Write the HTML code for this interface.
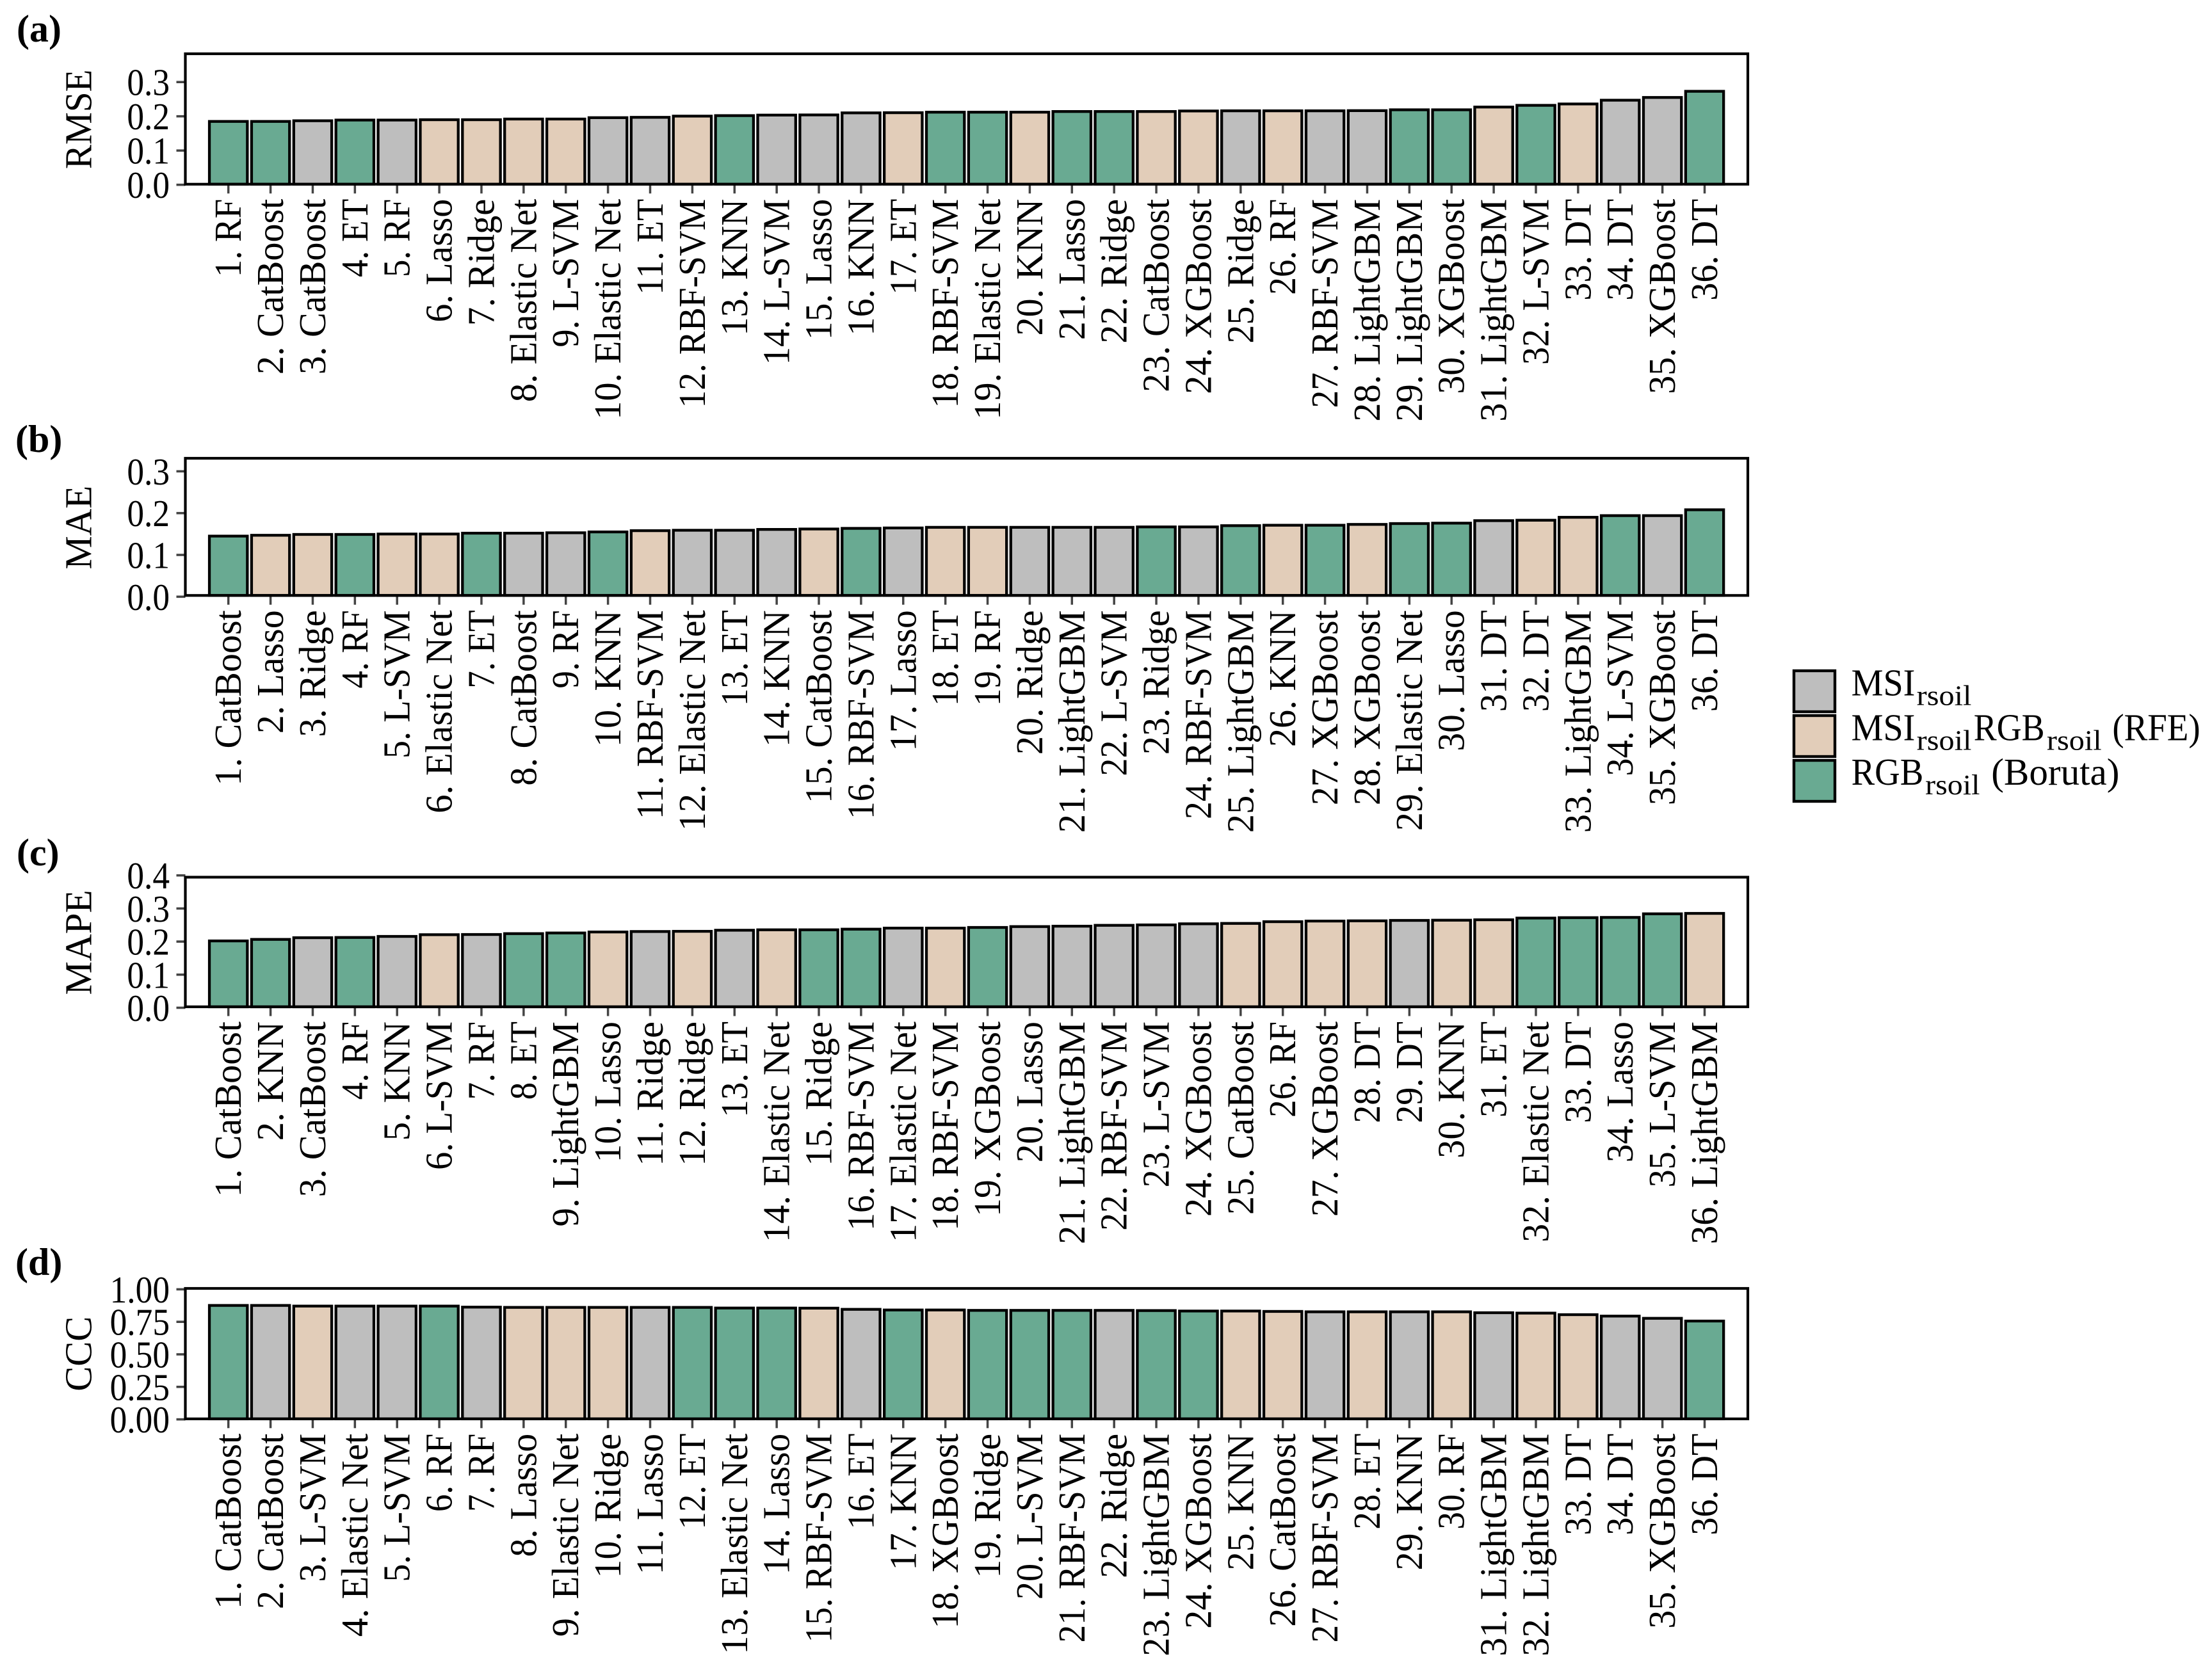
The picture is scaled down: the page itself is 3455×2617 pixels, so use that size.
<!DOCTYPE html>
<html lang="en">
<head>
<meta charset="utf-8">
<title>Model ranking bar charts</title>
<style>
html,body{margin:0;padding:0;background:#fff;}
svg{display:block;}
text{font-family:"Liberation Serif",serif;fill:#000;}
</style>
</head>
<body>
<svg id="chart" xmlns="http://www.w3.org/2000/svg" width="3455" height="2617" viewBox="0 0 3455 2617">
  <rect x="0" y="0" width="3455" height="2617" fill="#fff"/>
  <g>
    <rect x="2802" y="1048" width="64" height="64" fill="#bebebe" stroke="#000" stroke-width="4.4"/>
    <rect x="2802" y="1118" width="64" height="64" fill="#e2cdb9" stroke="#000" stroke-width="4.4"/>
    <rect x="2802" y="1188" width="64" height="64" fill="#69aa92" stroke="#000" stroke-width="4.4"/>
    <g>
      <text x="2891.6" y="1086.7" font-size="59" textLength="99.7" lengthAdjust="spacingAndGlyphs">MSI</text>
      <text x="2993.7" y="1101.7" font-size="44" textLength="85.7" lengthAdjust="spacingAndGlyphs">rsoil</text>
    </g>
    <g>
      <text x="2891.6" y="1156.5" font-size="59" textLength="99.7" lengthAdjust="spacingAndGlyphs">MSI</text>
      <text x="2993.7" y="1171.5" font-size="44" textLength="85.7" lengthAdjust="spacingAndGlyphs">rsoil</text>
      <text x="3082.8" y="1156.5" font-size="59" textLength="110.7" lengthAdjust="spacingAndGlyphs">RGB</text>
      <text x="3196.9" y="1171.5" font-size="44" textLength="85.7" lengthAdjust="spacingAndGlyphs">rsoil</text>
      <text x="3299.4" y="1156.5" font-size="59" textLength="137.2" lengthAdjust="spacingAndGlyphs">(RFE)</text>
    </g>
    <g>
      <text x="2891.6" y="1226" font-size="59" textLength="112.7" lengthAdjust="spacingAndGlyphs">RGB</text>
      <text x="3007.2" y="1241" font-size="44" textLength="85.2" lengthAdjust="spacingAndGlyphs">rsoil</text>
      <text x="3110.2" y="1226" font-size="59" textLength="200.3" lengthAdjust="spacingAndGlyphs">(Boruta)</text>
    </g>
  </g>
</svg>
<script>
// ---- Data: panel (a) RMSE ----
const rmseCategories = ["1. RF","2. CatBoost","3. CatBoost","4. ET","5. RF","6. Lasso","7. Ridge","8. Elastic Net","9. L-SVM","10. Elastic Net","11. ET","12. RBF-SVM","13. KNN","14. L-SVM","15. Lasso","16. KNN","17. ET","18. RBF-SVM","19. Elastic Net","20. KNN","21. Lasso","22. Ridge","23. CatBoost","24. XGBoost","25. Ridge","26. RF","27. RBF-SVM","28. LightGBM","29. LightGBM","30. XGBoost","31. LightGBM","32. L-SVM","33. DT","34. DT","35. XGBoost","36. DT"];
const rmseGroups = ["G","G","M","G","M","R","R","R","R","M","M","R","G","M","M","M","R","G","G","R","G","G","R","R","M","R","M","M","G","G","R","G","R","M","M","G"];
const rmseValues = [0.185,0.185,0.187,0.189,0.189,0.190,0.190,0.192,0.192,0.196,0.197,0.2005,0.202,0.2035,0.204,0.210,0.2105,0.212,0.212,0.212,0.214,0.214,0.214,0.2155,0.216,0.216,0.216,0.2165,0.219,0.219,0.227,0.232,0.236,0.247,0.255,0.273];
const rmseTicks = ["0.0","0.1","0.2","0.3"];

// ---- Data: panel (b) MAE ----
const maeCategories = ["1. CatBoost","2. Lasso","3. Ridge","4. RF","5. L-SVM","6. Elastic Net","7. ET","8. CatBoost","9. RF","10. KNN","11. RBF-SVM","12. Elastic Net","13. ET","14. KNN","15. CatBoost","16. RBF-SVM","17. Lasso","18. ET","19. RF","20. Ridge","21. LightGBM","22. L-SVM","23. Ridge","24. RBF-SVM","25. LightGBM","26. KNN","27. XGBoost","28. XGBoost","29. Elastic Net","30. Lasso","31. DT","32. DT","33. LightGBM","34. L-SVM","35. XGBoost","36. DT"];
const maeGroups = ["G","R","R","G","R","R","G","M","M","G","R","M","M","M","R","G","M","R","R","M","M","M","G","M","G","R","G","R","G","G","M","R","R","G","M","G"];
const maeValues = [0.145,0.147,0.149,0.149,0.150,0.150,0.152,0.152,0.153,0.155,0.158,0.159,0.159,0.161,0.162,0.1635,0.1645,0.166,0.166,0.166,0.166,0.166,0.167,0.167,0.170,0.171,0.171,0.173,0.175,0.176,0.182,0.183,0.190,0.194,0.194,0.208];
const maeTicks = ["0.0","0.1","0.2","0.3"];

// ---- Data: panel (c) MAPE ----
const mapeCategories = ["1. CatBoost","2. KNN","3. CatBoost","4. RF","5. KNN","6. L-SVM","7. RF","8. ET","9. LightGBM","10. Lasso","11. Ridge","12. Ridge","13. ET","14. Elastic Net","15. Ridge","16. RBF-SVM","17. Elastic Net","18. RBF-SVM","19. XGBoost","20. Lasso","21. LightGBM","22. RBF-SVM","23. L-SVM","24. XGBoost","25. CatBoost","26. RF","27. XGBoost","28. DT","29. DT","30. KNN","31. ET","32. Elastic Net","33. DT","34. Lasso","35. L-SVM","36. LightGBM"];
const mapeGroups = ["G","G","M","G","M","R","M","G","G","R","M","R","M","R","G","G","M","R","G","M","M","M","M","M","R","R","R","R","M","R","R","G","G","G","G","R"];
const mapeValues = [0.202,0.2066,0.2117,0.2124,0.2156,0.2208,0.2214,0.224,0.226,0.229,0.2304,0.231,0.2343,0.2356,0.2356,0.2375,0.2407,0.2407,0.2427,0.2453,0.2465,0.2491,0.2504,0.2537,0.2549,0.2601,0.262,0.2627,0.264,0.2646,0.2659,0.271,0.2723,0.273,0.2839,0.2852];
const mapeTicks = ["0.0","0.1","0.2","0.3","0.4"];

// ---- Data: panel (d) CCC ----
const cccCategories = ["1. CatBoost","2. CatBoost","3. L-SVM","4. Elastic Net","5. L-SVM","6. RF","7. RF","8. Lasso","9. Elastic Net","10. Ridge","11. Lasso","12. ET","13. Elastic Net","14. Lasso","15. RBF-SVM","16. ET","17. KNN","18. XGBoost","19. Ridge","20. L-SVM","21. RBF-SVM","22. Ridge","23. LightGBM","24. XGBoost","25. KNN","26. CatBoost","27. RBF-SVM","28. ET","29. KNN","30. RF","31. LightGBM","32. LightGBM","33. DT","34. DT","35. XGBoost","36. DT"];
const cccGroups = ["G","M","R","M","M","G","M","R","R","R","M","G","G","G","R","M","G","R","G","G","G","M","G","G","R","R","M","R","M","R","M","R","R","M","M","G"];
const cccValues = [0.876,0.876,0.871,0.871,0.871,0.871,0.863,0.861,0.861,0.861,0.861,0.861,0.856,0.856,0.855,0.846,0.841,0.841,0.838,0.838,0.838,0.838,0.8365,0.833,0.833,0.830,0.827,0.827,0.827,0.827,0.820,0.817,0.805,0.794,0.777,0.756];
const cccTicks = ["0.00","0.25","0.50","0.75","1.00"];

const groupFill = {M:"#bebebe", R:"#e2cdb9", G:"#69aa92"};

// Advance widths (per mille) of the original typeface, used to fit Liberation Serif to the reference text lengths.
const faceWidths = {"0":500,"1":500,"2":500,"3":500,"4":500,"5":500,"6":500,"7":500,"8":500,"9":500,".":250," ":250,"-":333,
  A:778,B:611,C:709,D:774,E:611,F:556,G:860,H:832,I:337,K:726,L:611,M:990,N:831,O:786,P:604,R:668,S:560,T:613,V:722,X:730,
  a:500,b:553,c:444,d:611,e:479,f:333,g:556,h:582,i:291,k:556,l:291,m:883,n:582,o:546,p:601,r:395,s:424,t:326,u:603,v:565,w:834,x:516,y:556};
function fitLength(str){
  let sum = 0;
  for (const ch of str) sum += (faceWidths[ch] || 500);
  return sum / 1000 * 55;
}

const svg = document.getElementById("chart");
const NS = "http://www.w3.org/2000/svg";
function mk(tag, attrs, parent){
  const el = document.createElementNS(NS, tag);
  for (const k in attrs) el.setAttribute(k, attrs[k]);
  (parent || svg).appendChild(el);
  return el;
}

// Horizontal band axis shared by all panels
const xFirst = 356.7, xStep = 65.88, barWidth = 59.3;
function xCenter(i){ return xFirst + xStep * i; }

const spineLeft = 289.5, spineRight = 2730;

function drawPanel(p){
  const g = mk("g", {});
  
  
  const yScale = v => p.zero - (v / p.domainMax) * (p.zero - p.top);

  // panel letter
  const letter = mk("text", {x:p.letterX, y:p.letterY, "font-size":60, "font-weight":"bold"}, g);
  letter.textContent = p.letter;
  
  

  // y-axis title
  const title = mk("text", {transform:"translate(142.5," + ((p.top + p.zero) / 2) + ") rotate(-90)", "text-anchor":"middle", "font-size":59, textLength:fitLength(p.title), lengthAdjust:"spacingAndGlyphs"}, g);
  title.textContent = p.title;
  
  

  // y ticks + labels
  p.ticks.forEach(t => {
    const y = yScale(parseFloat(t));
    const tick = mk("line", {x1:275.5, x2:spineLeft, y1:y, y2:y, stroke:"#444", "stroke-width":3.6}, g);
    
    
    const lab = mk("text", {x:265, y:y + 20.5, "text-anchor":"end", "font-size":59, textLength:fitLength(t) * 0.97, lengthAdjust:"spacingAndGlyphs"}, g);
    lab.textContent = t;
    
    
  });

  // x ticks + labels
  p.categories.forEach((c, i) => {
    const x = xCenter(i);
    const tick = mk("line", {x1:x, x2:x, y1:p.spineY, y2:p.spineY + 14.5, stroke:"#444", "stroke-width":3.5}, g);
    
    
    const lab = mk("text", {transform:"translate(" + (x + 19.5) + "," + (p.spineY + 23) + ") rotate(-90)", "text-anchor":"end", "font-size":59, textLength:fitLength(c), lengthAdjust:"spacingAndGlyphs"}, g);
    lab.textContent = c;
    
    
  });

  // bars
  p.values.forEach((v, i) => {
    const yTop = yScale(v);
    const bar = mk("rect", {x:xCenter(i) - barWidth / 2, y:yTop, width:barWidth, height:p.spineY - yTop, fill:groupFill[p.groups[i]], stroke:"#000", "stroke-width":4.3}, g);
    
    
  });

  // frame
  const frame = mk("rect", {x:spineLeft, y:p.top, width:spineRight - spineLeft, height:p.spineY - p.top, fill:"none", stroke:"#000", "stroke-width":4.2}, g);
  
  
}

drawPanel({key:"rmse", letter:"(a)", letterX:26, letterY:65, title:"RMSE", categories:rmseCategories, groups:rmseGroups, values:rmseValues, ticks:rmseTicks, top:84, zero:288.7, spineY:287.8, domainMax:0.3826});
drawPanel({key:"mae", letter:"(b)", letterX:24, letterY:706, title:"MAE", categories:maeCategories, groups:maeGroups, values:maeValues, ticks:maeTicks, top:716, zero:932.3, spineY:930.3, domainMax:0.3312});
drawPanel({key:"mape", letter:"(c)", letterX:26, letterY:1352, title:"MAPE", categories:mapeCategories, groups:mapeGroups, values:mapeValues, ticks:mapeTicks, top:1370.5, zero:1574.5, spineY:1573, domainMax:0.3946});
drawPanel({key:"ccc", letter:"(d)", letterX:24, letterY:1992, title:"CCC", categories:cccCategories, groups:cccGroups, values:cccValues, ticks:cccTicks, top:2013, zero:2217.6, spineY:2216.8, domainMax:1.0069});
</script>
</body>
</html>
